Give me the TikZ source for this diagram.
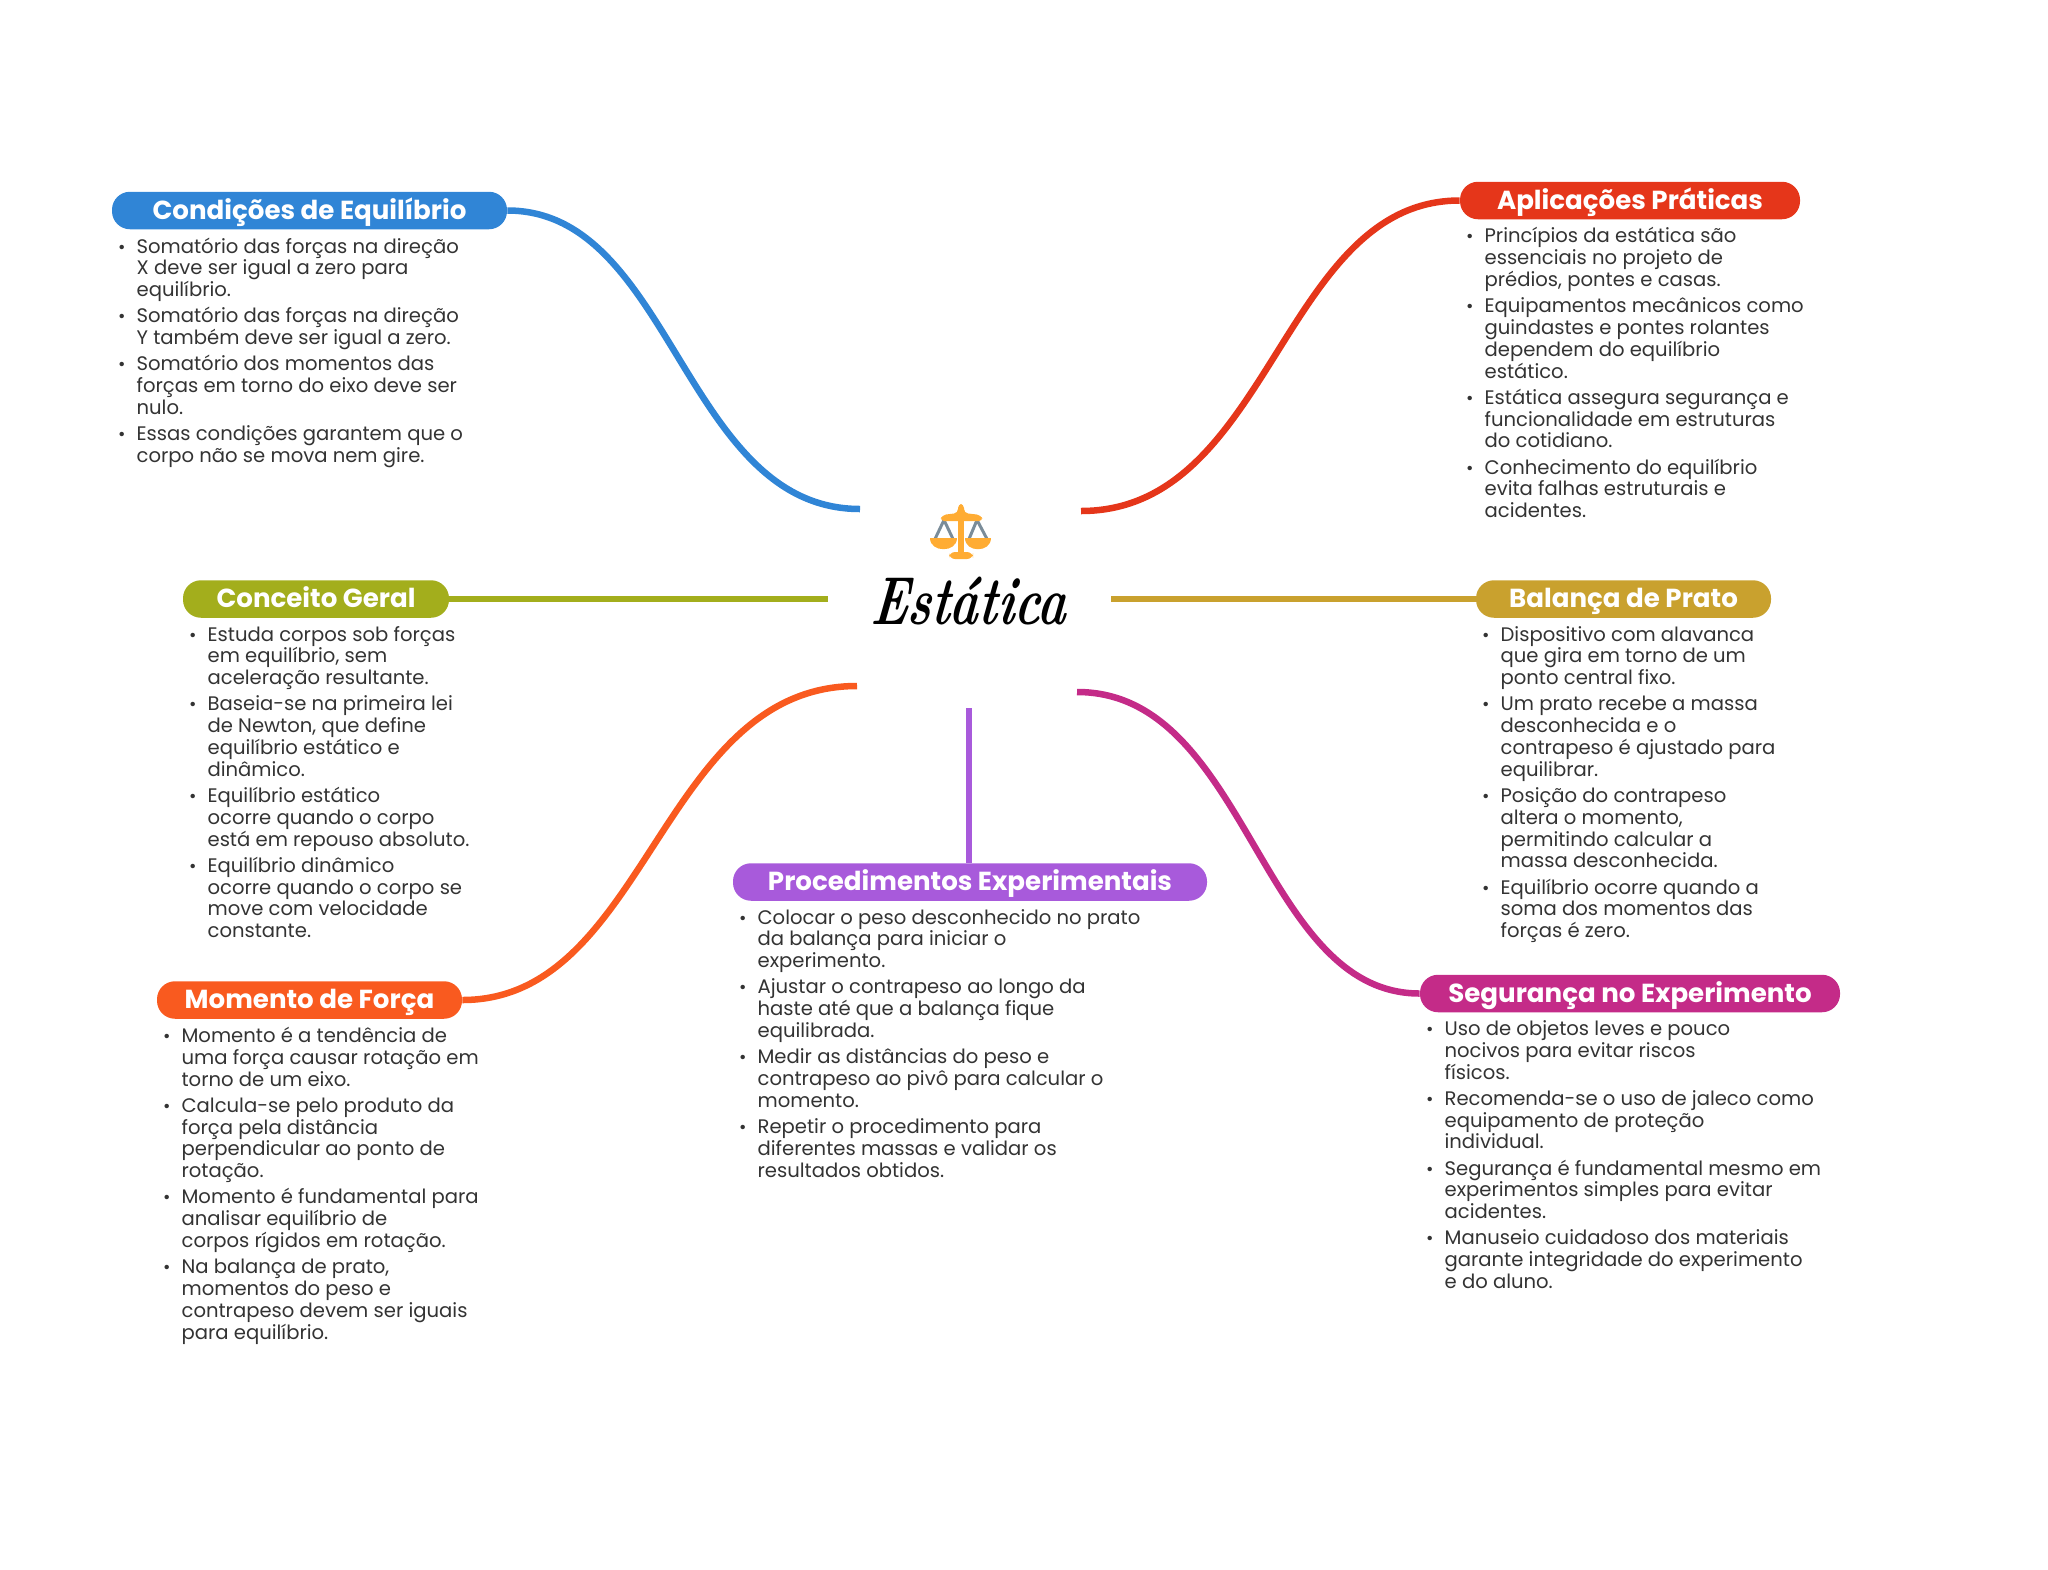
\documentclass[tikz,border=0pt]{standalone}
\usepackage{fontspec}
\setsansfont{Poppins}
\usetikzlibrary{positioning}
\definecolor{ccond}{HTML}{3085D6}
\definecolor{capli}{HTML}{E5361A}
\definecolor{cconc}{HTML}{A3AE1C}
\definecolor{cbala}{HTML}{C9A12E}
\definecolor{cmome}{HTML}{F95A1F}
\definecolor{cproc}{HTML}{A85ADB}
\definecolor{csegu}{HTML}{C42B88}
\definecolor{cbody}{HTML}{333333}
\definecolor{cicon}{HTML}{FFAC33}
\definecolor{cwire}{HTML}{7A8C99}
\newcommand{\itm}{\leavevmode\llap{\fontsize{9}{9}\selectfont•\hspace{5.5pt}}}
\newcommand{\nxt}{\\[2.2pt]}

\begin{document}
\begin{tikzpicture}[
    x=0.5pt, y=-0.5pt,
    pill/.style={rectangle, rounded corners=9pt, inner sep=0pt, minimum width=#1*0.5pt,
                 minimum height=18.75pt, text=white, text height=11pt, text depth=2.2pt,
                 font=\sffamily\bfseries\fontsize{13.05}{15}\selectfont},
    txt/.style={below right=3.8pt and 12.3pt of #1.south west, inner sep=0pt, align=left, text=cbody,
                font=\sffamily\fontsize{9.8}{10.9}\selectfont},
    link/.style={line width=3.25pt},
]
\useasboundingbox (0,0) rectangle (2048,1569);

% Centre
\node[xscale=0.71, xslant=0.15, font=\rmfamily\itshape\bfseries\fontsize{34}{36}\selectfont] (root) at (970,601) {Estática};
\coordinate (p1) at (860,509);
\coordinate (p2) at (1081,511);
\coordinate (p3) at (828,599);
\coordinate (p4) at (1111,599);
\coordinate (p5) at (857,686);
\coordinate (p6) at (969,708);
\coordinate (p7) at (1077,692);

% Icon
\draw[cwire, line width=1.5pt] (944,520) -- (935,539) (944,520) -- (953,539)
    (977,520) -- (969,539) (977,520) -- (987,539);
\fill[cicon, rounded corners=2pt] (958,504) -- (964,504) -- (964,513) -- (981,515) -- (983,521) -- (940,521) -- (942,515) -- (958,513) -- cycle;
\fill[cicon] (958,515) rectangle (964,553);
\fill[cicon, rounded corners=3pt] (949,559) -- (949,552) -- (973,552) -- (973,559) -- cycle;
\fill[cicon] (930,538) -- (957,538) .. controls (957,553) and (930,553) .. cycle;
\fill[cicon] (965,538) -- (991,538) .. controls (991,553) and (965,553) .. cycle;

% Titles
\node[pill=395, fill=ccond] (cond) at (309.5,210.5) {Condições de Equilíbrio};
\node[pill=340, fill=capli] (apli) at (1630,200.5) {Aplicações Práticas};
\node[pill=266, fill=cconc] (conc) at (316,599) {Conceito Geral};
\node[pill=295, fill=cbala] (bala) at (1623.5,599) {Balança de Prato};
\node[pill=305, fill=cmome] (mome) at (309.5,1000) {Momento de Força};
\node[pill=474, fill=cproc] (proc) at (970,882) {Procedimentos Experimentais};
\node[pill=420, fill=csegu] (segu) at (1630,993.5) {Segurança no Experimento};

% Text
\node[txt=cond] (tcond) {\itm Somatório das forças na direção\\X deve ser igual a zero para\\equilíbrio.\nxt
  \itm Somatório das forças na direção\\Y também deve ser igual a zero.\nxt
  \itm Somatório dos momentos das\\forças em torno do eixo deve ser\\nulo.\nxt
  \itm Essas condições garantem que o\\corpo não se mova nem gire.};
\node[txt=apli] (tapli) {\itm Princípios da estática são\\essenciais no projeto de\\prédios, pontes e casas.\nxt
  \itm Equipamentos mecânicos como\\guindastes e pontes rolantes\\dependem do equilíbrio\\estático.\nxt
  \itm Estática assegura segurança e\\funcionalidade em estruturas\\do cotidiano.\nxt
  \itm Conhecimento do equilíbrio\\evita falhas estruturais e\\acidentes.};
\node[txt=conc] (tconc) {\itm Estuda corpos sob forças\\em equilíbrio, sem\\aceleração resultante.\nxt
  \itm Baseia-se na primeira lei\\de Newton, que define\\equilíbrio estático e\\dinâmico.\nxt
  \itm Equilíbrio estático\\ocorre quando o corpo\\está em repouso absoluto.\nxt
  \itm Equilíbrio dinâmico\\ocorre quando o corpo se\\move com velocidade\\constante.};
\node[txt=bala] (tbala) {\itm Dispositivo com alavanca\\que gira em torno de um\\ponto central fixo.\nxt
  \itm Um prato recebe a massa\\desconhecida e o\\contrapeso é ajustado para\\equilibrar.\nxt
  \itm Posição do contrapeso\\altera o momento,\\permitindo calcular a\\massa desconhecida.\nxt
  \itm Equilíbrio ocorre quando a\\soma dos momentos das\\forças é zero.};
\node[txt=mome] (tmome) {\itm Momento é a tendência de\\uma força causar rotação em\\torno de um eixo.\nxt
  \itm Calcula-se pelo produto da\\força pela distância\\perpendicular ao ponto de\\rotação.\nxt
  \itm Momento é fundamental para\\analisar equilíbrio de\\corpos rígidos em rotação.\nxt
  \itm Na balança de prato,\\momentos do peso e\\contrapeso devem ser iguais\\para equilíbrio.};
\node[txt=proc] (tproc) {\itm Colocar o peso desconhecido no prato\\da balança para iniciar o\\experimento.\nxt
  \itm Ajustar o contrapeso ao longo da\\haste até que a balança fique\\equilibrada.\nxt
  \itm Medir as distâncias do peso e\\contrapeso ao pivô para calcular o\\momento.\nxt
  \itm Repetir o procedimento para\\diferentes massas e validar os\\resultados obtidos.};
\node[txt=segu] (tsegu) {\itm Uso de objetos leves e pouco\\nocivos para evitar riscos\\físicos.\nxt
  \itm Recomenda-se o uso de jaleco como\\equipamento de proteção\\individual.\nxt
  \itm Segurança é fundamental mesmo em\\experimentos simples para evitar\\acidentes.\nxt
  \itm Manuseio cuidadoso dos materiais\\garante integridade do experimento\\e do aluno.};

% Links
\draw[link, ccond] (cond.east) .. controls +(165,0) and +(-176,0) .. (p1);
\draw[link, capli] (apli.west) .. controls +(-178,0) and +(190,0) .. (p2);
\draw[link, cconc] (conc.east) -- (p3);
\draw[link, cbala] (bala.west) -- (p4);
\draw[link, cmome] (mome.east) .. controls +(185,0) and +(-197,0) .. (p5);
\draw[link, cproc] (proc.north -| p6) -- (p6);
\draw[link, csegu] (segu.west) .. controls +(-160,0) and +(171,0) .. (p7);

\end{tikzpicture}
\end{document}
